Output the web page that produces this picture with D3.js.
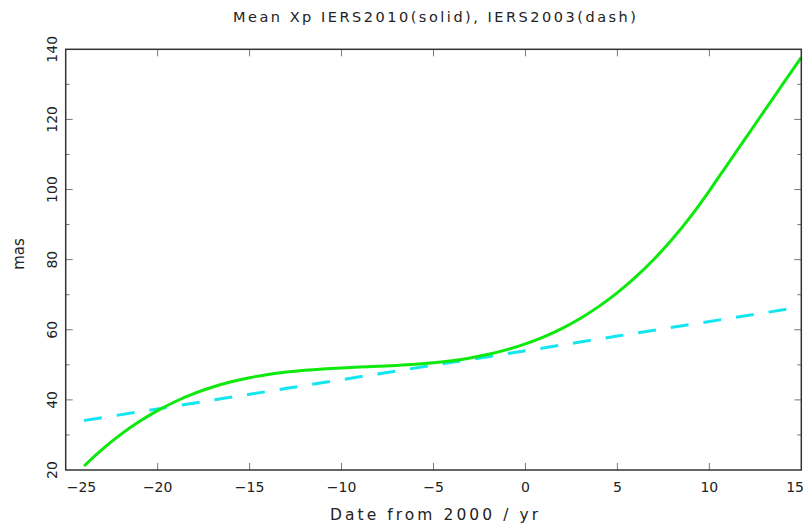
<!DOCTYPE html>
<html>
  <head>
    <meta charset="utf-8">
    <script src="https://d3js.org/d3.v7.min.js"></script>
    <style type="text/css">
      body { margin: 0; background: #fff; }
      svg { display: block; }
      text { font-family: "DejaVu Sans", sans-serif; fill: #222; }
    </style>
  </head>
  <body>
    <svg id="chart" width="805" height="524"></svg>
    <script>
      var titleText = "Mean Xp IERS2010(solid), IERS2003(dash)";
      var xLabel = "Date from 2000 / yr";
      var yLabel = "mas";

      // IERS2010 mean pole, read once a year off the solid curve
      var years2010 = [-24, -23, -22, -21, -20, -19, -18, -17, -16, -15,
                       -14, -13, -12, -11, -10, -9, -8, -7, -6, -5,
                       -4, -3, -2, -1, 0, 1, 2, 3, 4, 5,
                       6, 7, 8, 9, 10, 11, 12, 13, 14, 15];
      var xp2010 = [21.15, 25.96, 30.17, 33.82, 36.95, 39.61, 41.83, 43.67, 45.15, 46.33,
                    47.25, 47.94, 48.46, 48.84, 49.12, 49.35, 49.57, 49.82, 50.14, 50.58,
                    51.17, 51.97, 53.01, 54.33, 55.97, 57.99, 60.42, 63.29, 66.67, 70.58,
                    75.07, 80.18, 85.95, 92.43, 99.65, 107.27, 114.88, 122.50, 130.11, 137.72];

      // IERS2003 mean pole (dashed)
      var years2003 = [-24, -15, -5, 0, 5, 15];
      var xp2003 = [34.1, 41.6, 49.9, 54.0, 58.2, 66.5];

      var xTicks = [-25, -20, -15, -10, -5, 0, 5, 10, 15];
      var yTicks = [20, 40, 60, 80, 100, 120, 140];
      var yMinor = [30, 50, 70, 90, 110, 130];

      // plot box (note: "top" is taken by window.top)
      var boxL = 65.7, boxR = 801.3, boxT = 49.3, boxB = 470;

      var svg = d3.select("#chart");

      var x = d3.scaleLinear().domain([-25, 15]).range([boxL, boxR]);
      var y = d3.scaleLinear().domain([20, 140]).range([boxB, boxT]);

      var tickColor = "#777";

      // ticks, inward on all four sides
      var g = svg.append("g");
      xTicks.slice(1, -1).forEach(function(t) {
        g.append("line").attr("x1", x(t)).attr("x2", x(t))
          .attr("y1", boxB).attr("y2", boxB - 7)
          .attr("stroke", tickColor);
        g.append("line").attr("x1", x(t)).attr("x2", x(t))
          .attr("y1", boxT).attr("y2", boxT + 7)
          .attr("stroke", tickColor);
      });
      yTicks.slice(1, -1).forEach(function(t) {
        g.append("line").attr("x1", boxL).attr("x2", boxL + 7)
          .attr("y1", y(t)).attr("y2", y(t)).attr("stroke", tickColor);
        g.append("line").attr("x1", boxR).attr("x2", boxR - 7)
          .attr("y1", y(t)).attr("y2", y(t)).attr("stroke", tickColor);
      });
      yMinor.forEach(function(t) {
        g.append("line").attr("x1", boxL).attr("x2", boxL + 4)
          .attr("y1", y(t)).attr("y2", y(t)).attr("stroke", tickColor);
        g.append("line").attr("x1", boxR).attr("x2", boxR - 4)
          .attr("y1", y(t)).attr("y2", y(t)).attr("stroke", tickColor);
      });

      // curves
      var line = d3.line()
        .x(function(d) { return x(d[0]); })
        .y(function(d) { return y(d[1]); })
        .curve(d3.curveMonotoneX);

      svg.append("path")
        .datum(d3.zip(years2003, xp2003))
        .attr("d", line)
        .attr("fill", "none")
        .attr("stroke", "#14e6f0")
        .attr("stroke-width", 3)
        .attr("stroke-dasharray", "18,15");

      svg.append("path")
        .datum(d3.zip(years2010, xp2010))
        .attr("d", line)
        .attr("fill", "none")
        .attr("stroke", "#0de80d")
        .attr("stroke-width", 3);

      // frame
      svg.append("rect")
        .attr("x", boxL).attr("y", boxT)
        .attr("width", boxR - boxL).attr("height", boxB - boxT)
        .attr("fill", "none")
        .attr("stroke", "#333")
        .attr("stroke-width", 1.5);

      // x tick labels; the end ones are kept inside the page
      var lastI = xTicks.length - 1;
      svg.selectAll(".xlab")
        .data(xTicks)
        .enter().append("text")
        .attr("class", "xlab")
        .attr("x", function(d, i) {
          if (i === 0) return boxL + 1;
          if (i === lastI) return 804;
          return x(d);
        })
        .attr("y", 492)
        .attr("text-anchor", function(d, i) {
          return i === 0 ? "start" : (i === lastI ? "end" : "middle");
        })
        .style("font-size", "14px")
        .text(function(d) { return d < 0 ? "\u2212" + Math.abs(d) : d; });

      // y tick labels, rotated
      svg.selectAll(".ylab")
        .data(yTicks)
        .enter().append("text")
        .attr("class", "ylab")
        .attr("transform", function(d) { return "translate(56.5," + y(d) + ") rotate(-90)"; })
        .attr("text-anchor", "middle")
        .style("font-size", "14px")
        .text(function(d) { return d; });

      svg.append("text")
        .attr("transform", "translate(23.5,254) rotate(-90)")
        .attr("text-anchor", "middle")
        .style("font-size", "15px")
        .text(yLabel);

      svg.append("text")
        .attr("x", 330).attr("y", 520)
        .attr("textLength", 208)
        .attr("lengthAdjust", "spacing")
        .style("font-size", "15.5px")
        .text(xLabel);

      svg.append("text")
        .attr("x", 233).attr("y", 22)
        .attr("textLength", 403)
        .attr("lengthAdjust", "spacing")
        .style("font-size", "14.5px")
        .text(titleText);
    </script>
  </body>
</html>
